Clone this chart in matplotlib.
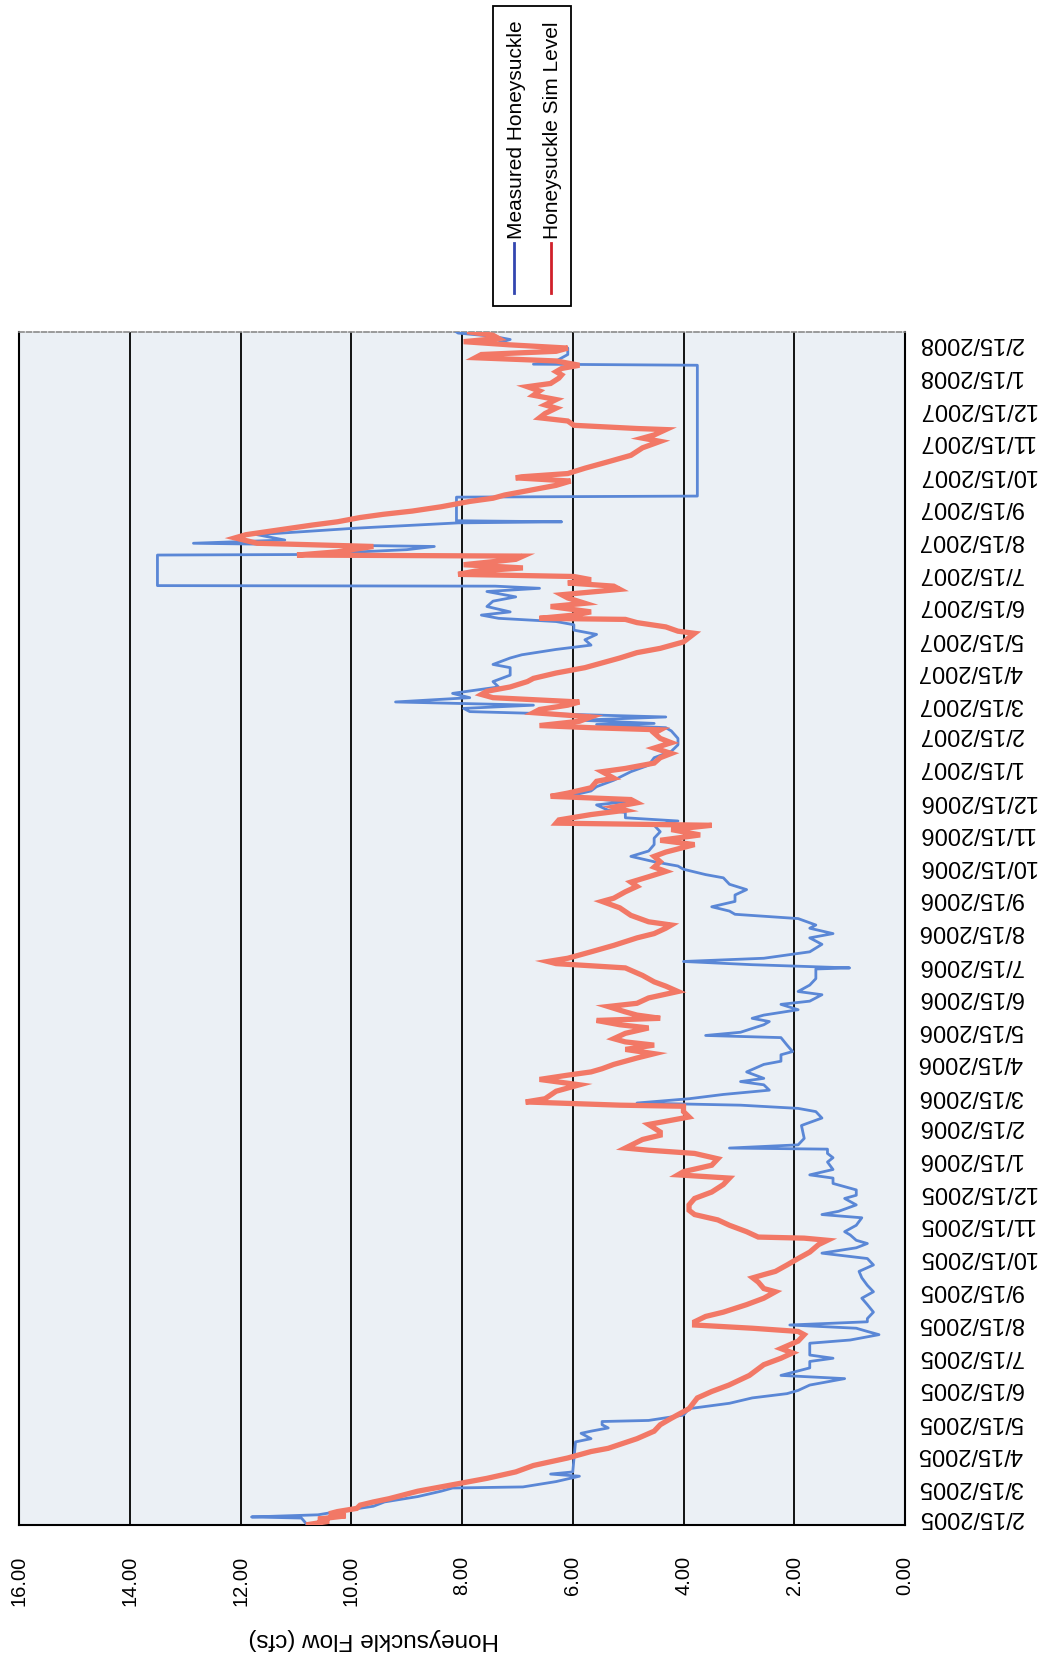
"""
Honeysuckle flow chart (page scanned on its side)
"""

import matplotlib
matplotlib.use("Agg")
import matplotlib.pyplot as plt
from matplotlib.patches import Rectangle
from matplotlib.lines import Line2D
import pandas as pd

plt.rcParams["font.family"] = ["Liberation Sans", "DejaVu Sans"]

# days after 2/15/2005, flow in cfs
meas_day = [-7, -1, 0, 2, 5, 10, 14, 19, 24, 27, 28, 33, 38, 40, 42, 70, 73, 78, 80, 83, 86, 89, 90, 95,
            101, 106, 111, 115, 118, 123, 129, 132, 139, 145, 148, 151, 156, 162, 165, 170, 173, 176, 179,
            182, 185, 191, 198, 204, 210, 216, 223, 229, 235, 241, 246, 251, 255, 258, 263, 266, 272, 279,
            282, 285, 291, 297, 300, 305, 311, 316, 319, 324, 331, 335, 339, 343, 344, 347, 353, 365, 366,
            372, 378, 381, 384, 386, 390, 394, 398, 403, 406, 409, 415, 422, 425, 431, 434, 440, 447, 449,
            452, 459, 462, 465, 468, 473, 478, 481, 487, 490, 496, 502, 511, 512, 515, 518, 521, 527, 534,
            540, 544, 549, 552, 558, 562, 565, 569, 574, 580, 585, 590, 596, 599, 604, 607, 611, 616, 621,
            627, 633, 639, 645, 649, 652, 657, 659, 664, 667, 672, 677, 681, 687, 695, 701, 708, 714, 720,
            726, 733, 736, 739, 740, 743, 746, 751, 754, 757, 760, 764, 768, 771, 774, 779, 785, 792, 795,
            801, 804, 809, 813, 818, 823, 827, 832, 835, 838, 841, 844, 849, 854, 858, 863, 866, 868, 868.5,
            897, 897.5, 902, 905, 908, 911, 916, 922, 927, 928, 929, 951, 952, 1074, 1075, 1078, 1084, 1090,
            1093, 1095, 1098, 1101, 1104, 1105]
meas_cfs = [10.8, 10.9, 11.8, 10.6, 10.25, 9.6, 9.4, 8.8, 8.38, 8.17, 6.9, 6.3, 5.88, 6.4, 6.0, 5.95, 5.67,
            5.85, 5.67, 5.36, 5.47, 5.47, 4.63, 4.0, 3.9, 3.17, 2.76, 2.13, 1.93, 1.72, 1.09, 2.24, 1.72,
            1.72, 1.3, 1.72, 1.72, 1.72, 0.99, 0.47, 0.68, 0.88, 2.08, 0.68, 0.68, 0.57, 0.68, 0.78, 0.57,
            0.68, 0.78, 0.83, 0.57, 0.68, 1.5, 0.88, 0.68, 0.88, 0.99, 1.09, 0.88, 0.78, 1.5, 1.2, 0.88,
            1.09, 0.88, 0.88, 1.3, 1.3, 1.72, 1.3, 1.4, 1.3, 1.4, 1.4, 3.17, 1.93, 1.82, 1.87, 1.82, 1.5,
            1.61, 1.93, 2.97, 4.84, 3.9, 3.28, 2.45, 2.55, 2.97, 2.55, 2.86, 2.55, 2.24, 2.24, 2.03, 2.13,
            2.24, 3.6, 2.97, 2.55, 2.45, 2.76, 2.55, 1.93, 2.24, 1.72, 1.5, 1.93, 1.72, 1.61, 1.61, 1.0,
            2.76, 4.0, 2.55, 1.72, 1.5, 1.72, 1.3, 1.72, 1.61, 1.93, 3.07, 3.17, 3.49, 3.07, 3.07, 2.86,
            3.17, 3.28, 3.6, 4.0, 4.1, 4.53, 4.95, 4.63, 4.53, 4.53, 4.42, 4.53, 4.1, 5.05, 5.05, 5.36,
            5.57, 5.05, 6.09, 5.67, 5.57, 5.26, 4.95, 4.63, 4.53, 4.22, 4.1, 4.1, 4.22, 4.32, 5.57, 4.53,
            5.88, 4.32, 7.86, 7.97, 6.71, 9.2, 7.86, 8.17, 7.76, 7.34, 7.44, 7.13, 7.13, 7.44, 7.13, 6.92,
            6.3, 5.67, 5.78, 5.57, 5.98, 5.98, 6.3, 7.34, 7.65, 7.13, 7.55, 7.44, 7.03, 7.55, 6.6, 7.4,
            13.5, 13.5, 10.9, 9.0, 8.5, 12.85, 11.2, 11.7, 9.94, 8.07, 6.2, 8.1, 8.1, 3.75, 3.75, 6.71,
            6.3, 6.09, 6.09, 7.13, 7.34, 7.13, 7.44, 8.07, 8.1]

sim_day = [-7, -4, -2, 1, 3, 5, 8, 11, 14, 17, 24, 30, 36, 42, 48, 55, 61, 64, 73, 80, 86, 92, 101, 111,
           117, 123, 132, 142, 148, 153, 157, 164, 170, 173, 176, 179, 182, 187, 191, 198, 204, 210, 213,
           219, 223, 226, 229, 235, 241, 247, 254, 258, 260, 261, 266, 272, 277, 282, 286, 291, 297, 303,
           310, 316, 319, 322, 328, 334, 339, 342, 344, 352, 356, 359, 366, 369, 373, 378, 383, 384, 387,
           390, 397, 400, 403, 408, 412, 415, 418, 422, 425, 428, 432, 436, 440, 443, 446, 451, 456, 459,
           463, 465, 468, 471, 476, 479, 484, 490, 495, 499, 505, 512, 516, 518, 521, 527, 533, 540, 544,
           549, 552, 555, 561, 568, 574, 577, 583, 588, 592, 597, 602, 606, 611, 616, 620, 627, 631, 636,
           641, 645, 647, 650, 655, 659, 662, 666, 669, 672, 675, 680, 686, 689, 695, 698, 703, 708, 712,
           717, 722, 726, 731, 734, 736, 738, 742, 746, 750, 753, 757, 760, 764, 767, 770, 774, 779, 782,
           787, 792, 795, 801, 806, 810, 816, 824, 826, 830, 834, 837, 838, 841, 844, 849, 852, 857, 860,
           865, 868, 871, 874, 877, 879, 882, 885, 888, 893, 896, 897, 900, 905, 908, 913, 916, 919, 925,
           928, 932, 935, 938, 942, 947, 950, 953, 956, 959, 962, 966, 969, 970, 973, 978, 984, 990, 997,
           1003, 1006, 1009, 1014, 1015, 1018, 1022, 1025, 1029, 1034, 1037, 1042, 1046, 1050, 1054, 1057,
           1062, 1065, 1068, 1071, 1074, 1078, 1081, 1084, 1087, 1090, 1093, 1096, 1099, 1102, 1105]
sim_cfs = [10.77, 10.4, 10.6, 10.1, 10.4, 10.25, 9.9, 9.84, 9.6, 9.32, 8.8, 8.17, 7.55, 7.03, 6.71, 6.09,
           5.67, 5.36, 4.84, 4.53, 4.42, 4.22, 3.9, 3.75, 3.49, 3.18, 2.81, 2.55, 2.24, 2.03, 2.24, 1.93,
           1.82, 1.93, 2.76, 3.8, 3.8, 3.6, 3.28, 2.86, 2.55, 2.34, 2.55, 2.65, 2.75, 2.55, 2.34, 2.13,
           1.93, 1.72, 1.56, 1.4, 1.82, 2.65, 2.86, 3.17, 3.38, 3.8, 3.9, 3.9, 3.8, 3.49, 3.28, 3.17, 4.1,
           4.0, 3.49, 3.38, 3.8, 4.63, 5.05, 4.74, 4.42, 4.42, 4.63, 4.32, 3.9, 4.0, 4.0, 5.15, 6.85, 6.5,
           6.3, 6.09, 5.88, 6.6, 6.09, 5.67, 5.47, 5.26, 5.05, 4.84, 4.53, 5.05, 4.53, 5.05, 5.26, 5.05,
           4.63, 5.15, 5.57, 4.42, 4.84, 5.05, 5.36, 4.84, 4.63, 4.1, 4.32, 4.53, 4.74, 5.05, 6.3, 6.45,
           6.09, 5.67, 5.26, 4.84, 4.53, 4.32, 4.22, 4.63, 4.95, 5.15, 5.47, 5.26, 5.05, 4.84, 4.95, 4.63,
           4.32, 4.53, 4.42, 4.53, 4.32, 3.8, 4.42, 3.7, 4.22, 3.49, 6.3, 6.25, 5.67, 5.05, 5.26, 4.84,
           4.95, 6.4, 6.09, 5.67, 5.57, 5.26, 5.47, 5.05, 4.53, 4.42, 4.22, 4.53, 4.22, 4.42, 4.53, 4.42,
           5.67, 6.6, 5.88, 5.67, 6.71, 6.6, 6.09, 5.88, 7.44, 7.65, 7.55, 7.13, 6.82, 6.71, 6.3, 5.78,
           5.57, 5.15, 4.84, 4.42, 4.0, 3.8, 4.1, 4.32, 4.84, 5.05, 6.6, 5.98, 5.67, 6.4, 5.78, 6.09, 6.2,
           5.15, 5.26, 6.09, 5.67, 5.98, 8.07, 7.76, 6.9, 7.97, 7.03, 6.9, 10.98, 10.25, 9.6, 11.7, 12.1,
           11.9, 11.5, 10.7, 10.25, 9.84, 9.42, 8.9, 8.38, 7.86, 7.44, 7.23, 6.92, 6.6, 6.3, 6.04, 7.03,
           6.92, 6.09, 5.78, 5.36, 4.95, 4.74, 4.42, 4.74, 4.53, 4.32, 4.84, 5.98, 6.09, 6.6, 6.5, 6.3,
           6.5, 6.3, 6.71, 6.6, 6.82, 6.4, 6.25, 6.2, 6.3, 6.2, 5.88, 6.3, 7.76, 7.65, 6.3, 6.09, 7.13,
           7.97, 7.34, 7.44, 7.86]

flow_ticks = [0, 2, 4, 6, 8, 10, 12, 14, 16]

start = pd.Timestamp("2005-02-15")
meas_dates = start + pd.to_timedelta(meas_day, unit="D")
sim_dates = start + pd.to_timedelta(sim_day, unit="D")
tick_dates = pd.date_range("2005-02-15", periods=37, freq=pd.DateOffset(months=1))
tick_labels = [f"{d.month}/{d.day}/{d.year}" for d in tick_dates]

W, H = 1054, 1669
fig = plt.figure(figsize=(W / 100, H / 100), dpi=100)
fig.patch.set_facecolor("white")

# plot area in pixels: x 19..905, y 332..1525
ax = fig.add_axes([19 / W, 1 - 1525 / H, (905 - 19) / W, (1525 - 332) / H])
ax.set_facecolor("#ebf0f5")

ax.plot(meas_cfs, meas_dates, color="#5a87d6", lw=2.0, zorder=3)
ax.plot(sim_cfs, sim_dates, color="#f27866", lw=3.8, zorder=4, solid_joinstyle="miter")

ax.set_xlim(16, 0)
ax.set_ylim(start - pd.Timedelta(days=7.5), start + pd.Timedelta(days=1105))

ax.set_xticks(flow_ticks)
ax.set_xticklabels([f"{v:.2f}" for v in flow_ticks], rotation=90, fontsize=14.5)
ax.tick_params(axis="x", length=0, pad=22)

ax.yaxis.tick_right()
ax.set_yticks(tick_dates)
ax.set_yticklabels(tick_labels, rotation=180, fontsize=17, ha="left", va="center")
ax.tick_params(axis="y", length=0, pad=9)

ax.grid(axis="x", color="black", lw=1.3)
ax.grid(axis="y", visible=False)
ax.set_axisbelow(True)

for side in ["bottom", "right", "left"]:
    ax.spines[side].set_color("black")
    ax.spines[side].set_linewidth(1.5)
ax.spines["top"].set_color("#8a8a8a")
ax.spines["top"].set_linewidth(1.2)
ax.spines["top"].set_linestyle((0, (3, 1.5)))

fig.text(374 / W, 1 - 1639 / H, "Honeysuckle Flow (cfs)", rotation=180,
         ha="center", va="center", fontsize=17.5)

# legend box (upright text turned on its side)
fig.patches.append(Rectangle((493 / W, 1 - 306 / H), 78 / W, 300 / H, transform=fig.transFigure,
                             facecolor="white", edgecolor="black", lw=1.3))
fig.lines.append(Line2D([514 / W, 514 / W], [1 - 293 / H, 1 - 243 / H], transform=fig.transFigure,
                        color="#3346b0", lw=2.0))
fig.lines.append(Line2D([551 / W, 551 / W], [1 - 293 / H, 1 - 243 / H], transform=fig.transFigure,
                        color="#d0202a", lw=2.0))
fig.text(516 / W, 1 - 239 / H, "Measured Honeysuckle", rotation=90, ha="center", va="bottom",
         fontsize=15)
fig.text(553 / W, 1 - 239 / H, "Honeysuckle Sim Level", rotation=90, ha="center", va="bottom",
         fontsize=15)

fig.savefig("out.png", dpi=100)
